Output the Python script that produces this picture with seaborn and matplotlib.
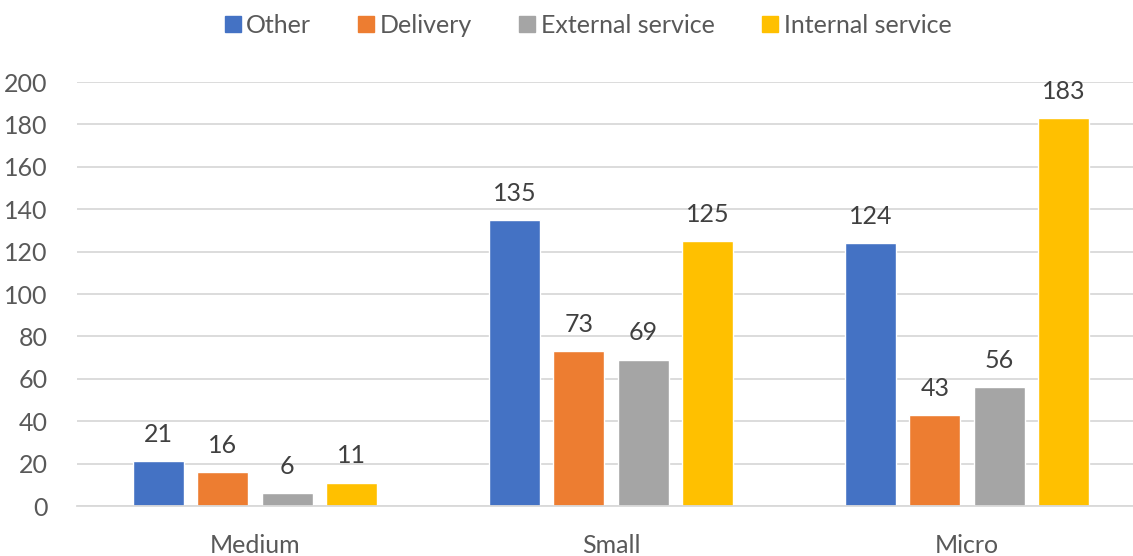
import pandas as pd
import matplotlib
matplotlib.use("Agg")
import matplotlib.pyplot as plt
import seaborn as sns

sizes = ["Medium", "Small", "Micro"]
series = ["Other", "Delivery", "External service", "Internal service"]
other = [21, 135, 124]
delivery = [16, 73, 43]
external = [6, 69, 56]
internal = [11, 125, 183]
colors = ["#4472C4", "#ED7D31", "#A5A5A5", "#FFC000"]
yticks = [0, 20, 40, 60, 80, 100, 120, 140, 160, 180, 200]

df = pd.DataFrame({
    "size": sizes * 4,
    "type": [s for s in series for _ in sizes],
    "count": other + delivery + external + internal,
})

sns.set_style("white")
plt.rcParams["font.family"] = ["Lato", "DejaVu Sans"]

fig = plt.figure(figsize=(11.33, 5.56), dpi=100)
ax = fig.add_axes([77 / 1133, 50 / 556, 1068 / 1133, 424 / 556])

sns.barplot(data=df, x="size", y="count", hue="type", hue_order=series,
            palette=colors, width=0.723, gap=0.21, saturation=1,
            ax=ax, legend=False)

for cont in ax.containers:
    ax.bar_label(cont, padding=11, fontsize=18, color="#404040")

ax.set_ylim(0, 200)
ax.set_xlim(-0.5, 2.5)
ax.set_yticks(yticks)
ax.yaxis.grid(True, color="#D9D9D9", linewidth=1.3)
ax.set_axisbelow(True)
for s in ["top", "right", "left"]:
    ax.spines[s].set_visible(False)
ax.spines["bottom"].set_color("#D9D9D9")
ax.spines["bottom"].set_linewidth(1.3)
ax.tick_params(axis="both", length=0, labelsize=18, labelcolor="#595959")
ax.tick_params(axis="y", pad=21)
ax.tick_params(axis="x", pad=20)
ax.set_xlabel("")
ax.set_ylabel("")

handles = [plt.Line2D([], [], marker="s", linestyle="", markersize=12,
                      color=c) for c in colors]
fig.legend(handles, series, loc="upper center", bbox_to_anchor=(0.517, 1.015),
           ncol=4, frameon=False, fontsize=18, labelcolor="#595959",
           handletextpad=0.05, columnspacing=1.7, handlelength=1.0)

fig.savefig("out.png", dpi=100)
